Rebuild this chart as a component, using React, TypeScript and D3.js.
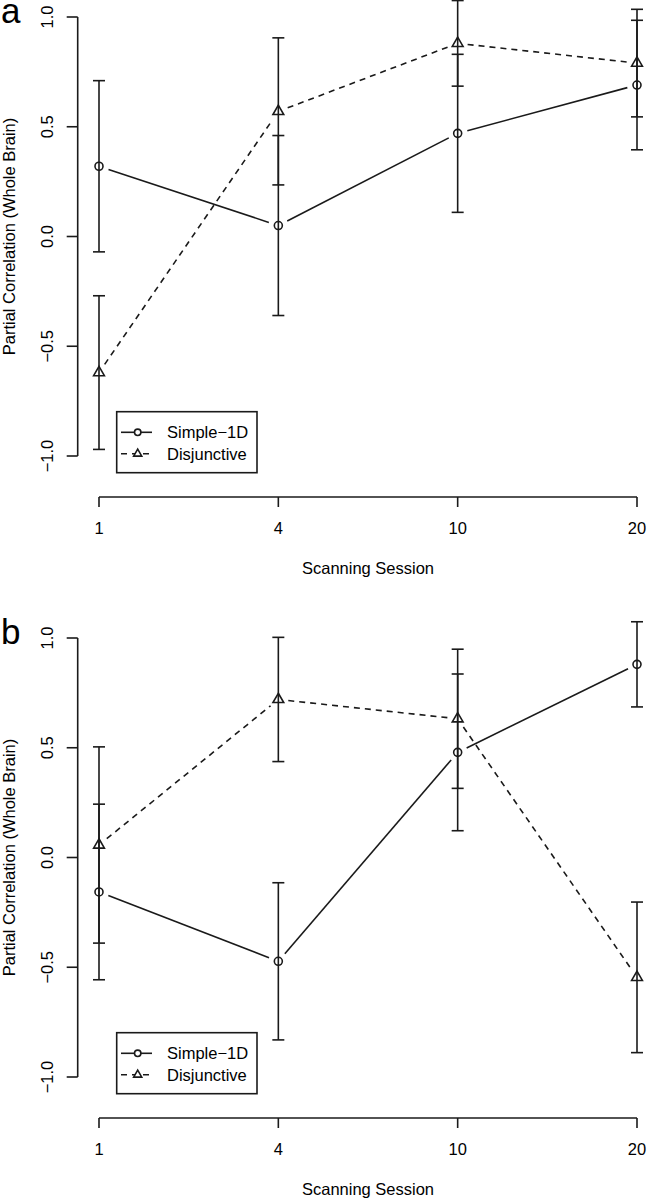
import React from "react";
import * as d3 from "d3";

const sessions = ["1", "4", "10", "20"];
const yTicks = [-1, -0.5, 0, 0.5, 1];
const seriesNames = ["Simple−1D", "Disjunctive"];

// Panel a
const simpleA = [0.32, 0.05, 0.47, 0.69];
const simpleAErr = [0.39, 0.41, 0.36, 0.295];
const disjA = [-0.62, 0.57, 0.88, 0.79];
const disjAErr = [0.35, 0.335, 0.195, 0.245];

// Panel b
const simpleB = [-0.157, -0.473, 0.479, 0.88];
const simpleBErr = [0.4, 0.358, 0.357, 0.194];
const disjB = [0.057, 0.72, 0.632, -0.546];
const disjBErr = [0.447, 0.283, 0.317, 0.343];

const INK = "#1a1a1a";
const FONT = "'Liberation Sans', Arial, Helvetica, sans-serif";
const LW = 1.6;
const FS = 16.5;

function fmt(v: number) {
  const s = v.toFixed(1);
  return v < 0 ? "\u2212" + s.slice(1) : s;
}

function triPath(cx: number, cy: number, R: number) {
  const TRC0 = Math.sqrt((4 * Math.PI) / (3 * Math.sqrt(3)));
  const r = TRC0 * R;
  const xc = ((TRC0 * Math.sqrt(3)) / 2) * R;
  const yc = (TRC0 / 2) * R;
  return `M${cx},${cy - r}L${cx + xc},${cy + yc}L${cx - xc},${cy + yc}Z`;
}

function gapSegs(pts: [number, number][], gap: number) {
  const segs: [number, number, number, number][] = [];
  for (let i = 0; i < pts.length - 1; i++) {
    const [x1, y1] = pts[i];
    const [x2, y2] = pts[i + 1];
    const dx = x2 - x1, dy = y2 - y1;
    const L = Math.hypot(dx, dy);
    if (L <= 2 * gap) continue;
    const ux = dx / L, uy = dy / L;
    segs.push([x1 + ux * gap, y1 + uy * gap, x2 - ux * gap, y2 - uy * gap]);
  }
  return segs;
}

function Panel({ offset, letter, simple, simpleErr, disj, disjErr }: any) {
  const x = d3.scalePoint<string>().domain(sessions).range([99, 637]);
  const y = d3.scaleLinear().domain([-1, 1]).range([456 + offset, 17 + offset]);
  const axisX = 77.7;
  const axisY = 497 + offset;
  const midY = (y(1) + y(-1)) / 2;
  const midX = ((x(sessions[0]) as number) + (x(sessions[sessions.length - 1]) as number)) / 2;

  const series = [
    { vals: simple, errs: simpleErr, dash: undefined as string | undefined, sym: "circle" },
    { vals: disj, errs: disjErr, dash: "6,5", sym: "tri" },
  ];

  const cap = 6;
  const legX = 116.7, legY = 411.7 + offset, legW = 140.3, legH = 61;
  const rows = [432.3 + offset, 453.8 + offset];

  return (
    <g>
      <text x={1} y={22.5 + offset} fontFamily={FONT} fontSize={35} fill="#000">
        {letter}
      </text>
      {/* y axis */}
      <line x1={axisX} x2={axisX} y1={y(-1)} y2={y(1)} stroke={INK} strokeWidth={LW} />
      {yTicks.map((t) => (
        <g key={"yt" + t}>
          <line x1={axisX - 11} x2={axisX} y1={y(t)} y2={y(t)} stroke={INK} strokeWidth={LW} />
          <text
            x={53.3}
            y={y(t)}
            transform={`rotate(-90, 53.3, ${y(t)})`}
            textAnchor="middle"
            fontFamily={FONT}
            fontSize={FS}
            fill="#000"
          >
            {fmt(t)}
          </text>
        </g>
      ))}
      <text
        x={15}
        y={midY}
        transform={`rotate(-90, 15, ${midY})`}
        textAnchor="middle"
        fontFamily={FONT}
        fontSize={FS}
        fill="#000"
      >
        Partial Correlation (Whole Brain)
      </text>
      {/* x axis */}
      <line
        x1={x(sessions[0])}
        x2={x(sessions[sessions.length - 1])}
        y1={axisY}
        y2={axisY}
        stroke={INK}
        strokeWidth={LW}
      />
      {sessions.map((s) => (
        <g key={"xt" + s}>
          <line x1={x(s)} x2={x(s)} y1={axisY} y2={axisY + 10} stroke={INK} strokeWidth={LW} />
          <text x={x(s)} y={533.5 + offset} textAnchor="middle" fontFamily={FONT} fontSize={FS} fill="#000">
            {s}
          </text>
        </g>
      ))}
      <text x={midX} y={573.5 + offset} textAnchor="middle" fontFamily={FONT} fontSize={FS} fill="#000">
        Scanning Session
      </text>
      {/* series */}
      {series.map((sr, si) => {
        const pts: [number, number][] = sessions.map((s, i) => [x(s) as number, y(sr.vals[i])]);
        return (
          <g key={"s" + si}>
            {sessions.map((s, i) => {
              const cx = x(s) as number;
              const hi = y(sr.vals[i] + sr.errs[i]);
              const lo = y(sr.vals[i] - sr.errs[i]);
              return (
                <g key={"e" + i}>
                  <line x1={cx} x2={cx} y1={hi} y2={lo} stroke={INK} strokeWidth={LW} />
                  <line x1={cx - cap} x2={cx + cap} y1={hi} y2={hi} stroke={INK} strokeWidth={LW} />
                  <line x1={cx - cap} x2={cx + cap} y1={lo} y2={lo} stroke={INK} strokeWidth={LW} />
                </g>
              );
            })}
            {gapSegs(pts, 10).map((g, i) => (
              <line
                key={"l" + i}
                x1={g[0]}
                y1={g[1]}
                x2={g[2]}
                y2={g[3]}
                stroke={INK}
                strokeWidth={LW}
                strokeDasharray={sr.dash}
              />
            ))}
            {pts.map((p, i) =>
              sr.sym === "circle" ? (
                <circle key={"p" + i} cx={p[0]} cy={p[1]} r={4} fill="none" stroke={INK} strokeWidth={LW} />
              ) : (
                <path key={"p" + i} d={triPath(p[0], p[1], 4)} fill="none" stroke={INK} strokeWidth={LW} />
              )
            )}
          </g>
        );
      })}
      {/* legend */}
      <rect x={legX} y={legY} width={legW} height={legH} fill="#fff" stroke={INK} strokeWidth={LW} />
      {series.map((sr, si) => (
        <g key={"lg" + si}>
          <line
            x1={121}
            x2={152}
            y1={rows[si]}
            y2={rows[si]}
            stroke={INK}
            strokeWidth={LW}
            strokeDasharray={sr.dash}
          />
          {sr.sym === "circle" ? (
            <circle cx={137.7} cy={rows[si]} r={3.2} fill="#fff" stroke={INK} strokeWidth={LW} />
          ) : (
            <path d={triPath(137.7, rows[si], 3)} fill="#fff" stroke={INK} strokeWidth={LW} />
          )}
          <text x={167} y={rows[si] + 5.8} fontFamily={FONT} fontSize={FS} fill="#000">
            {seriesNames[si]}
          </text>
        </g>
      ))}
    </g>
  );
}

export default function App() {
  return (
    <svg
      width={647}
      height={1199}
      viewBox="0 0 647 1199"
      style={{ position: "absolute", left: 0, top: 0, background: "#fff" }}
    >
      <rect x={0} y={0} width={647} height={1199} fill="#fff" />
      <Panel offset={0} letter="a" simple={simpleA} simpleErr={simpleAErr} disj={disjA} disjErr={disjAErr} />
      <Panel offset={621} letter="b" simple={simpleB} simpleErr={simpleBErr} disj={disjB} disjErr={disjBErr} />
    </svg>
  );
}
